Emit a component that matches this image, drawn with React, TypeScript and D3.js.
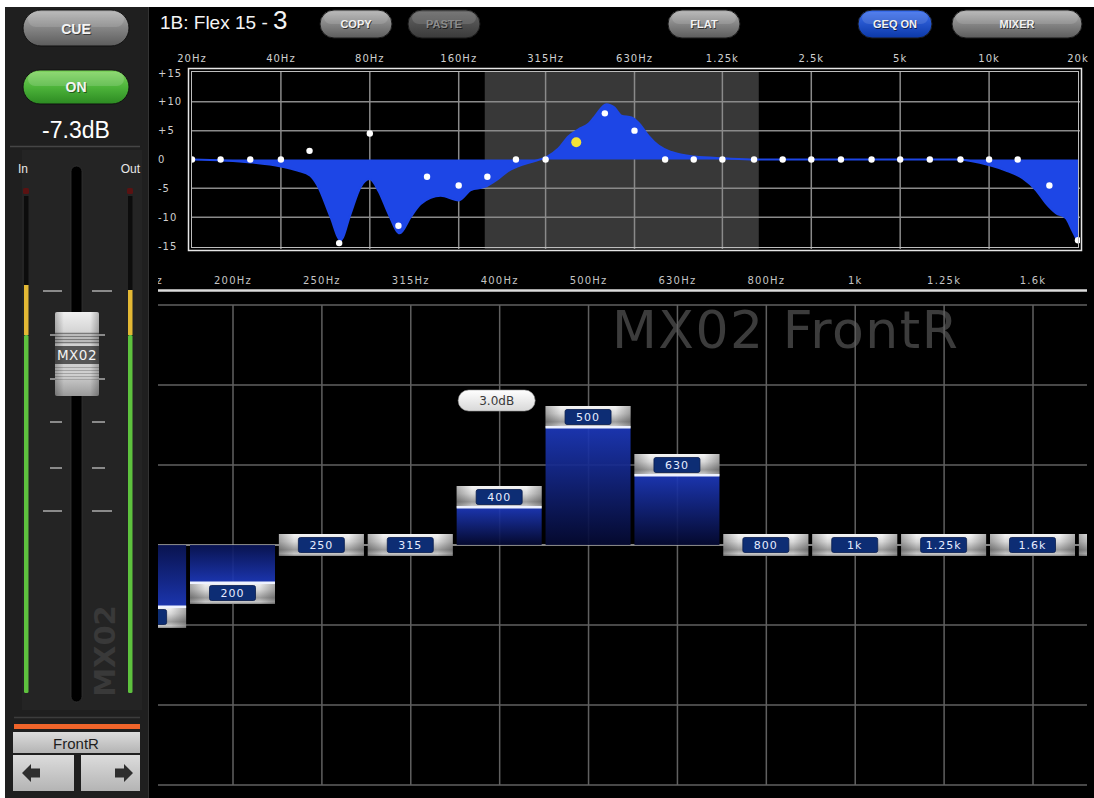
import React from 'react';
import * as d3 from 'd3';

// 31-band GEQ
const bandLabels = ['20', '25', '31.5', '40', '50', '63', '80', '100', '125', '160', '200', '250', '315', '400', '500', '630', '800', '1k', '1.25k', '1.6k', '2k', '2.5k', '3.15k', '4k', '5k', '6.3k', '8k', '10k', '12.5k', '16k', '20k'];
const bandFreqs = [20, 25, 31.5, 40, 50, 63, 80, 100, 125, 160, 200, 250, 315, 400, 500, 630, 800, 1000, 1250, 1600, 2000, 2500, 3150, 4000, 5000, 6300, 8000, 10000, 12500, 16000, 20000];
const bandGains = [0, 0, 0, 0, 1.5, -14.5, 4.5, -11.5, -3, -4.5, -3, 0, 0, 3, 8, 5, 0, 0, 0, 0, 0, 0, 0, 0, 0, 0, 0, 0, 0, -4.5, -14];
const selectedBand = 13;

// response curve
const responseFreqs = [20, 31.5, 40, 45.5, 50.3, 53.2, 58.9, 63.7, 68.8, 74.4, 79.9, 85.7, 92.7, 101, 110, 119, 139, 160, 176, 195, 217, 235, 254, 288, 319, 348, 376, 406, 440, 461, 506, 539, 569, 616, 650, 703, 760, 841, 1008, 1273, 1611, 7700, 10050, 11390, 13010, 14400, 15570, 16840, 18210, 19000, 20000];
const responseGains = [0, -0.5, -1.2, -1.9, -2.8, -4.5, -10, -14, -9.5, -4.8, -3.4, -5.5, -9.5, -12.8, -10, -7.7, -6.3, -7.1, -5.3, -4.8, -3.4, -2, -1.2, -0.3, 0.5, 1.9, 4, 5.2, 6.2, 7.4, 9.6, 9, 7.6, 7.3, 6.4, 4.1, 2.4, 1.3, 0.5, 0.2, 0, 0, -1, -1.9, -3.3, -5.3, -7.6, -9.3, -10.2, -12, -14.3];

const topTickFreqs = [20, 40, 80, 160, 315, 630, 1250, 2500, 5000, 10000, 20000];
const topTickLabels = ['20Hz', '40Hz', '80Hz', '160Hz', '315Hz', '630Hz', '1.25k', '2.5k', '5k', '10k', '20k'];
const dbTicks = [15, 10, 5, 0, -5, -10, -15];
const viewRange = [196, 1660]; // Hz range shown in the fader view

const lowerBands = [9, 10, 11, 12, 13, 14, 15, 16, 17, 18, 19, 20];
const lowerTickLabels = ['160Hz', '200Hz', '250Hz', '315Hz', '400Hz', '500Hz', '630Hz', '800Hz', '1k', '1.25k', '1.6k'];
const gridDb = [15, 10, 5, -5, -10, -15];

const faderTicks = [291, 335, 379, 422, 468, 511];
const faderLongTicks = [291, 511];

const mono = '"DejaVu Sans", sans-serif';
const sans = '"Liberation Sans", Arial, sans-serif';

function Pill({ x, y, w, h, fill, label, color = '#f2f2f2', size = 11 }: any) {
  return (
    <g>
      <rect x={x} y={y} width={w} height={h} rx={h / 2} fill={fill} stroke="#1a1a1a" strokeWidth={1} />
      <rect x={x + 4} y={y + 2} width={w - 8} height={h / 2 - 2} rx={h / 4} fill="#fff" opacity={0.12} />
      <text x={x + w / 2 + 0.8} y={y + h / 2 + size * 0.38 + 0.8} textAnchor="middle" fontFamily={sans} fontWeight="bold" fontSize={size} fill="#000" opacity={0.6}>{label}</text>
      <text x={x + w / 2} y={y + h / 2 + size * 0.38} textAnchor="middle" fontFamily={sans} fontWeight="bold" fontSize={size} fill={color}>{label}</text>
    </g>
  );
}

export default function App() {
  const xTop = d3.scaleLog().domain([20, 20000]).range([192, 1078]);
  const yTop = d3.scaleLinear().domain([-15, 15]).range([246, 73]);
  const xLow = d3.scaleLinear().domain([10, 19]).range([233, 1033]);
  const yLow = d3.scaleLinear().domain([-15, 15]).range([785, 305]);
  const lowRight = 1087;

  const area = d3.area<number>()
    .x((_, i) => xTop(responseFreqs[i]))
    .y0(yTop(0))
    .y1((d) => yTop(d))
    .curve(d3.curveMonotoneX);
  const line = d3.line<number>()
    .x((_, i) => xTop(responseFreqs[i]))
    .y((d) => yTop(d))
    .curve(d3.curveMonotoneX);

  const barW = 85;
  const handleH = 22;
  const y0 = yLow(0);

  return (
    <svg width={1094} height={798} style={{ position: 'absolute', left: 0, top: 0 }} xmlns="http://www.w3.org/2000/svg">
      <defs>
        <linearGradient id="grayBtn" x1="0" y1="0" x2="0" y2="1">
          <stop offset="0" stopColor="#b4b4b4" />
          <stop offset="0.5" stopColor="#858585" />
          <stop offset="1" stopColor="#5c5c5c" />
        </linearGradient>
        <linearGradient id="darkBtn" x1="0" y1="0" x2="0" y2="1">
          <stop offset="0" stopColor="#666" />
          <stop offset="1" stopColor="#3a3a3a" />
        </linearGradient>
        <linearGradient id="blueBtn" x1="0" y1="0" x2="0" y2="1">
          <stop offset="0" stopColor="#3d70ee" />
          <stop offset="1" stopColor="#0b38a8" />
        </linearGradient>
        <linearGradient id="greenBtn" x1="0" y1="0" x2="0" y2="1">
          <stop offset="0" stopColor="#7fd45e" />
          <stop offset="0.5" stopColor="#4db43a" />
          <stop offset="1" stopColor="#2c8a22" />
        </linearGradient>
        <linearGradient id="handleGrad" x1="0" y1="0" x2="0" y2="1">
          <stop offset="0" stopColor="#f6f6f6" />
          <stop offset="0.35" stopColor="#d8d8d8" />
          <stop offset="0.72" stopColor="#9c9c9c" />
          <stop offset="0.9" stopColor="#c8c8c8" />
          <stop offset="1" stopColor="#8a8a8a" />
        </linearGradient>
        <linearGradient id="handleSide" x1="0" y1="0" x2="1" y2="0">
          <stop offset="0" stopColor="#000" stopOpacity="0.28" />
          <stop offset="0.18" stopColor="#000" stopOpacity="0" />
          <stop offset="0.82" stopColor="#000" stopOpacity="0" />
          <stop offset="1" stopColor="#000" stopOpacity="0.28" />
        </linearGradient>
        <linearGradient id="posBar" x1="0" y1="0" x2="0" y2="1">
          <stop offset="0" stopColor="#1d39bc" />
          <stop offset="1" stopColor="#050a32" />
        </linearGradient>
        <linearGradient id="negBar" x1="0" y1="0" x2="0" y2="1">
          <stop offset="0" stopColor="#0a1556" />
          <stop offset="1" stopColor="#1d39bc" />
        </linearGradient>
        <linearGradient id="capGrad" x1="0" y1="0" x2="0" y2="1">
          <stop offset="0" stopColor="#f0f0f0" />
          <stop offset="0.25" stopColor="#d2d2d2" />
          <stop offset="0.75" stopColor="#cfcfcf" />
          <stop offset="1" stopColor="#9a9a9a" />
        </linearGradient>
        <linearGradient id="capSide" x1="0" y1="0" x2="1" y2="0">
          <stop offset="0" stopColor="#000" stopOpacity="0.25" />
          <stop offset="0.2" stopColor="#000" stopOpacity="0" />
          <stop offset="0.8" stopColor="#000" stopOpacity="0" />
          <stop offset="1" stopColor="#000" stopOpacity="0.25" />
        </linearGradient>
        <linearGradient id="tipGrad" x1="0" y1="0" x2="0" y2="1">
          <stop offset="0" stopColor="#ffffff" />
          <stop offset="1" stopColor="#d8d8d8" />
        </linearGradient>
        <linearGradient id="boxGrad" x1="0" y1="0" x2="0" y2="1">
          <stop offset="0" stopColor="#dcdcdc" />
          <stop offset="1" stopColor="#b4b4b4" />
        </linearGradient>
        <clipPath id="lowClip">
          <rect x={158} y={262} width={lowRight - 158} height={530} />
        </clipPath>
        <clipPath id="topClip">
          <rect x={191} y={71} width={889} height={178} />
        </clipPath>
      </defs>

      <rect x={0} y={0} width={1094} height={798} fill="#fff" />
      <rect x={5} y={7} width={1089} height={791} fill="#000" />

      {/* ---------- left channel strip ---------- */}
      <rect x={5} y={7} width={143} height={791} fill="#1f1f1f" />
      <rect x={22} y={150} width={120} height={560} fill="#242424" />
      <line x1={148.5} y1={7} x2={148.5} y2={798} stroke="#333" />
      <rect x={23} y={10} width={106} height={36} rx={18} fill="url(#grayBtn)" stroke="#111" />
      <rect x={28} y={12} width={96} height={15} rx={8} fill="#fff" opacity={0.12} />
      <text x={77} y={35} textAnchor="middle" fontFamily={sans} fontWeight="bold" fontSize={14} fill="#000" opacity={0.5}>CUE</text>
      <text x={76} y={34} textAnchor="middle" fontFamily={sans} fontWeight="bold" fontSize={14} fill="#f4f4f4">CUE</text>
      <rect x={23} y={70} width={106} height={34} rx={17} fill="url(#greenBtn)" stroke="#111" />
      <rect x={28} y={72} width={96} height={14} rx={7} fill="#fff" opacity={0.15} />
      <text x={77} y={93} textAnchor="middle" fontFamily={sans} fontWeight="bold" fontSize={14} fill="#000" opacity={0.45}>ON</text>
      <text x={76} y={92} textAnchor="middle" fontFamily={sans} fontWeight="bold" fontSize={14} fill="#f4f4f4">ON</text>
      <text x={76} y={138} textAnchor="middle" fontFamily={sans} fontSize={23} fill="#fff">-7.3dB</text>
      <line x1={10} y1={146.5} x2={140} y2={146.5} stroke="#454545" strokeWidth={1.5} />
      <text x={18} y={173} fontFamily={sans} fontSize={12} fill="#e8e8e8">In</text>
      <text x={140} y={173} textAnchor="end" fontFamily={sans} fontSize={12} fill="#e8e8e8">Out</text>

      {/* meters */}
      <rect x={23} y={188} width={6} height={6} rx={1.5} fill="#5a1212" />
      <rect x={127} y={188} width={6} height={6} rx={1.5} fill="#5a1212" />
      <rect x={24} y={196} width={4.5} height={89} fill="#0c0c0c" />
      <rect x={128} y={196} width={4.5} height={94} fill="#0c0c0c" />
      <rect x={24} y={285} width={4.5} height={50} fill="#e3b834" />
      <rect x={128} y={290} width={4.5} height={45} fill="#e3b834" />
      <rect x={24} y={335} width={4.5} height={358} rx={1.5} fill="#5ec23e" />
      <rect x={128} y={335} width={4.5} height={358} rx={1.5} fill="#5ec23e" />

      {/* fader */}
      <rect x={71} y={166} width={11} height={536} rx={5.5} fill="#000" stroke="#333" strokeWidth={0.8} />
      {faderTicks.map((t) => {
        const long = faderLongTicks.includes(t);
        return (
          <g key={t}>
            <line x1={long ? 43 : 50} y1={t} x2={62} y2={t} stroke="#8a8a8a" strokeWidth={2} />
            <line x1={92} y1={t} x2={long ? 112 : 105} y2={t} stroke="#8a8a8a" strokeWidth={2} />
          </g>
        );
      })}
      <g>
        <rect x={55} y={312} width={44} height={84} rx={2} fill="url(#capGrad)" />
        {[333, 336, 339, 342].map((y) => (
          <line key={y} x1={55} y1={y + 0.5} x2={99} y2={y + 0.5} stroke="#7a7a7a" strokeWidth={1.3} />
        ))}
        {[367, 370, 373, 376, 379].map((y) => (
          <line key={y} x1={55} y1={y + 0.5} x2={99} y2={y + 0.5} stroke="#a3a3a3" strokeWidth={1.2} />
        ))}
        <rect x={55} y={346} width={44} height={18} fill="#565656" />
        <rect x={55} y={312} width={44} height={84} rx={2} fill="url(#capSide)" />
        <text x={77} y={360} textAnchor="middle" fontFamily={mono} fontSize={13.5} letterSpacing={0.5} fill="#f2f2f2">MX02</text>
      </g>
      <text transform="translate(115,651) rotate(-90)" textAnchor="middle" fontFamily={mono} fontWeight="bold" fontSize={29} fill="#393939">MX02</text>

      {/* name + arrows */}
      <line x1={14} y1={717.5} x2={140} y2={717.5} stroke="#3c3c3c" strokeWidth={1.5} />
      <rect x={14} y={724} width={126} height={5} fill="#f0642a" />
      <rect x={13} y={732} width={127} height={21} fill="url(#boxGrad)" />
      <text x={76} y={749} textAnchor="middle" fontFamily={sans} fontSize={15} fill="#1e1e1e">FrontR</text>
      <rect x={13} y={755} width={61} height={36} fill="url(#boxGrad)" />
      <rect x={81} y={755} width={59} height={36} fill="url(#boxGrad)" />
      <path d="M22,773 L31,764 L31,768.5 L40,768.5 L40,777.5 L31,777.5 L31,782 Z" fill="#2e2e2e" />
      <path d="M133,773 L124,764 L124,768.5 L115,768.5 L115,777.5 L124,777.5 L124,782 Z" fill="#2e2e2e" />

      {/* ---------- toolbar ---------- */}
      <text x={160} y={29} fontFamily={sans} fontSize={19} fill="#f4f4f4">
        1B: Flex 15 - <tspan fontSize={26}>3</tspan>
      </text>
      <Pill x={320} y={10} w={72} h={28} fill="url(#grayBtn)" label="COPY" />
      <Pill x={408} y={10} w={72} h={28} fill="url(#darkBtn)" label="PASTE" color="#8c8c8c" />
      <Pill x={668} y={10} w={72} h={28} fill="url(#grayBtn)" label="FLAT" />
      <Pill x={858} y={10} w={74} h={28} fill="url(#blueBtn)" label="GEQ ON" />
      <Pill x={952} y={10} w={130} h={28} fill="url(#grayBtn)" label="MIXER" />

      {/* ---------- overview graph ---------- */}
      {topTickFreqs.map((f, i) => (
        <text key={f} x={xTop(f)} y={62} textAnchor="middle" fontFamily={mono} fontSize={10} letterSpacing={1} fill="#cfcfcf">{topTickLabels[i]}</text>
      ))}
      {dbTicks.map((d) => (
        <text key={d} x={158} y={yTop(d) + 3.5} fontFamily={mono} fontSize={10} letterSpacing={1} fill="#cfcfcf">{d > 0 ? `+${d}` : `${d}`}</text>
      ))}
      <rect x={191} y={71} width={889} height={178} fill="#000" />
      <rect x={xTop(viewRange[0])} y={71} width={xTop(viewRange[1]) - xTop(viewRange[0])} height={178} fill="#383838" />
      <g clipPath="url(#topClip)">
        {topTickFreqs.slice(1, -1).map((f) => (
          <line key={f} x1={xTop(f)} y1={71} x2={xTop(f)} y2={249} stroke="#8a8a8a" strokeWidth={1.5} />
        ))}
        {[10, 5, -5, -10].map((d) => (
          <line key={d} x1={191} y1={yTop(d)} x2={1080} y2={yTop(d)} stroke="#8a8a8a" strokeWidth={1.5} />
        ))}
        <path d={area(responseGains) || ''} fill="#1d46e6" />
        <path d={line(responseGains) || ''} fill="none" stroke="#1d46e6" strokeWidth={2} />
        {bandFreqs.map((f, i) =>
          i === selectedBand ? null : (
            <circle key={f} cx={xTop(f)} cy={yTop(bandGains[i])} r={3.2} fill="#fff" />
          )
        )}
        <circle cx={xTop(bandFreqs[selectedBand])} cy={yTop(bandGains[selectedBand])} r={5} fill="#f3e236" />
      </g>
      <rect x={188.5} y={68.5} width={893} height={182} fill="none" stroke="#e6e6e6" strokeWidth={1.5} />
      <rect x={191.5} y={71.5} width={887} height={176} fill="none" stroke="#bdbdbd" strokeWidth={1} />

      {/* ---------- fader view ---------- */}
      <g clipPath="url(#lowClip)">
        {lowerTickLabels.map((label, i) => (
          <text key={label} x={xLow(lowerBands[i])} y={284} textAnchor="middle" fontFamily={mono} fontSize={10} letterSpacing={1.2} fill="#c4c4c4">{label}</text>
        ))}
        <line x1={158} y1={290.5} x2={lowRight} y2={290.5} stroke="#dcdcdc" strokeWidth={2.5} />
        <text x={612} y={348} fontFamily={mono} fontSize={52} letterSpacing={1.5} fill="#3c3c3c">MX02 FrontR</text>
        {gridDb.map((d) => (
          <line key={d} x1={158} y1={yLow(d)} x2={lowRight} y2={yLow(d)} stroke="#606060" strokeWidth={1.5} />
        ))}
        {lowerBands.slice(1, -1).map((b) => (
          <line key={b} x1={xLow(b)} y1={yLow(15)} x2={xLow(b)} y2={yLow(-15)} stroke="#606060" strokeWidth={1.5} />
        ))}
        <line x1={158} y1={y0} x2={lowRight} y2={y0} stroke="#b0b0b0" strokeWidth={1.5} />

        {lowerBands.map((b) => {
          const v = bandGains[b];
          const x0 = xLow(b) - 43;
          const yc = yLow(v);
          const top = yc - handleH / 2;
          const bottom = yc + handleH / 2;
          const labelVisible = x0 + 19.5 < lowRight;
          return (
            <g key={b}>
              {v > 0 && <rect x={x0} y={bottom} width={barW} height={y0 - bottom} fill="url(#posBar)" opacity={0.92} />}
              {v < 0 && <rect x={x0} y={y0} width={barW} height={top - y0} fill="url(#negBar)" opacity={0.92} />}
              <rect x={x0} y={top} width={barW} height={handleH} fill="url(#handleGrad)" />
              <rect x={x0} y={top} width={barW} height={handleH} fill="url(#handleSide)" />
              {v > 0 && <rect x={x0} y={bottom - 2} width={barW} height={2.5} fill="#eef2ff" />}
              {v < 0 && <rect x={x0} y={top - 0.5} width={barW} height={2.5} fill="#eef2ff" />}
              {labelVisible && (
                <g>
                  <rect x={x0 + 19.5} y={top + 3.5} width={46} height={15} rx={2} fill="#0d2d74" stroke="#081c4c" strokeWidth={0.8} />
                  <text x={x0 + 42.5} y={top + 15} textAnchor="middle" fontFamily={mono} fontSize={11} letterSpacing={1} fill="#e6ecff">{bandLabels[b]}</text>
                </g>
              )}
            </g>
          );
        })}

        {(() => {
          const cx = xLow(selectedBand) - 3;
          const ty = yLow(bandGains[selectedBand]) - handleH / 2 - 96;
          return (
            <g>
              <rect x={cx - 38.5} y={ty} width={77} height={21} rx={10.5} fill="url(#tipGrad)" stroke="#9a9a9a" strokeWidth={0.6} />
              <text x={cx} y={ty + 15} textAnchor="middle" fontFamily={mono} fontSize={12} fill="#3a3a3a">{`${bandGains[selectedBand].toFixed(1)}dB`}</text>
            </g>
          );
        })()}
      </g>
    </svg>
  );
}
